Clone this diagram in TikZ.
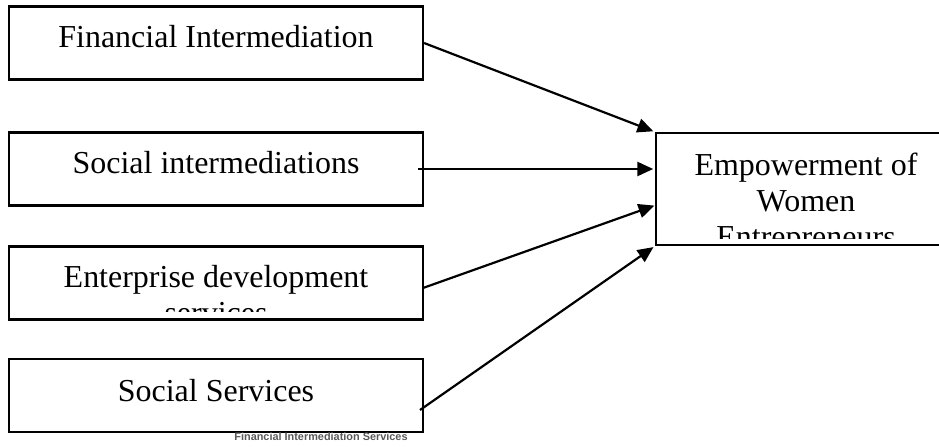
\documentclass[tikz,border=0pt]{standalone}
\usepackage{fontspec}
\setmainfont{Liberation Serif}
\newfontfamily\capfont{Liberation Sans}
\usetikzlibrary{arrows.meta, positioning}
\tikzstyle{flow}=[x=0.02cm, y=-0.02cm, line width=1.25pt,
                  >={Triangle[length=9pt,width=8pt]}, shorten >=1pt]
\tikzstyle{box}=[draw, rectangle, minimum width=8.28cm,
                 minimum height=1.46cm, inner sep=0pt]
\tikzstyle{boxtext}=[anchor=north, inner sep=0pt, align=center,
                     font=\fontsize{18.2}{20.5}\selectfont]

\begin{document}
\begin{tikzpicture}[flow]
  \clip (0,0) rectangle (939,446);
  \node[box] (fin) at (216,43) {};
  \node[box] (soc) at (216,169) {};
  \node[box] (ent) at (216,283) {};
  \node[box] (srv) at (216,395.5) {};
  \node[box, minimum width=6cm, minimum height=2.24cm] (emp) at (806,189) {};
  \node[boxtext] (fintxt) [below=0.38cm of fin.north] {Financial Intermediation};
  \node[boxtext] (soctxt) [below=0.38cm of soc.north] {Social intermediations};
  \node[boxtext] (srvtxt) [below=0.4cm of srv.north] {Social Services};
  % text cut off at the bottom of the box
  \begin{scope}
    \clip ([yshift=0.18cm]ent.south west) rectangle (ent.north east);
    \node[boxtext] (enttxt) [below=0.38cm of ent.north] {Enterprise development\\services};
  \end{scope}
  \begin{scope}
    \clip ([yshift=0.16cm]emp.south west) rectangle (emp.north east);
    \node[boxtext] (emptxt) [below=0.4cm of emp.north] {Empowerment of\\Women\\Entrepreneurs};
  \end{scope}
  \coordinate (s2) at (418,169);
  \coordinate (s3) at (423,288);
  \coordinate (s4) at (420,410);
  \coordinate (t3) at (656,205);
  \path[->] (fin.east) edge (emp.north west);
  \path[->] (s2) edge (emp.west |- s2);
  \path[->] (s3) edge (t3);
  \path[->] (s4) edge (emp.south west);
  \node[font=\capfont\bfseries\fontsize{6.2}{7}\selectfont, text=black!65, inner sep=0pt]
    (caption) at (321,437) {Financial Intermediation Services};
\end{tikzpicture}
\end{document}
